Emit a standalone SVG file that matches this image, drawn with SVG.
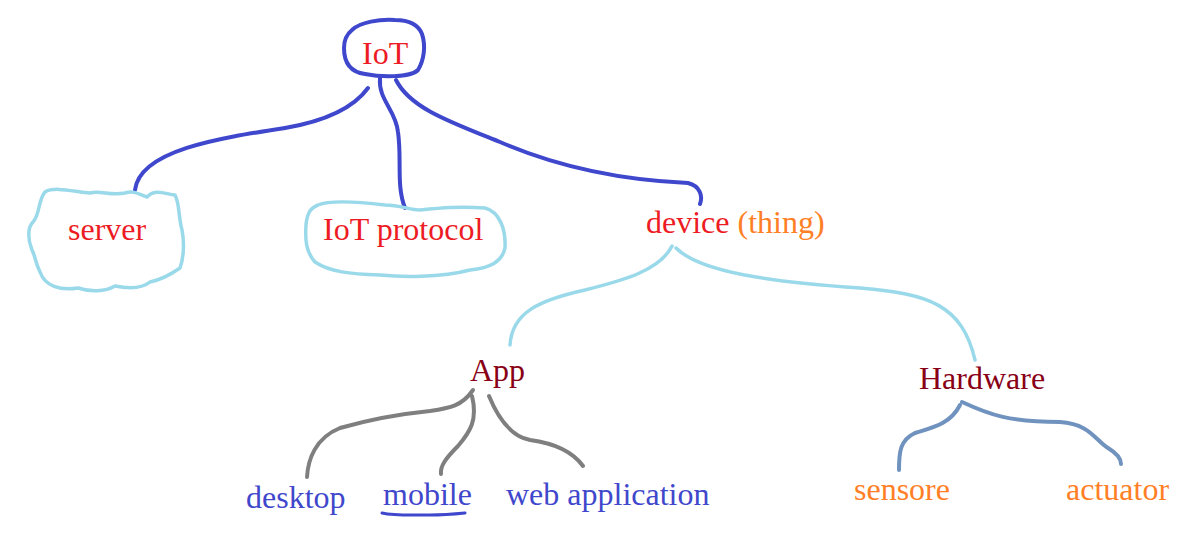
<svg xmlns="http://www.w3.org/2000/svg" width="1188" height="560" viewBox="0 0 1188 560">
<style>
text{font-family:"Liberation Serif","Times New Roman",serif;font-size:32px}
.red{fill:#ed1c24}.org{fill:#ff7f27}.dred{fill:#880015}.blu{fill:#3f48cc}
.s{fill:none;stroke-linecap:round;stroke-linejoin:round}
.dk{stroke:#3f48cc;stroke-width:4}
.lb{stroke:#99d9ea;stroke-width:3.5}
.gr{stroke:#7f7f7f;stroke-width:4}
.sb{stroke:#7092be;stroke-width:4}
</style>
<rect width="1188" height="560" fill="#fff"/>
<g id="connectors">
<path class="s dk" d="M368,88 C352,110 320,122 285,128 C220,138 140,150 135,190"/>
<path class="s dk" d="M380,78 C378,100 396,110 398,132 C402,160 396,185 405,208"/>
<path class="s dk" d="M396,80 C410,108 450,122 500,142 C560,168 620,180 688,183 C700,186 703,196 700,204"/>
<path class="s lb" d="M672,246 C660,270 625,280 585,290 C540,300 512,312 510,345"/>
<path class="s lb" d="M676,248 C700,272 770,282 860,288 C930,294 962,305 975,360"/>
<path class="s gr" d="M473,390 C462,406 450,408 430,411 C400,414 375,418 340,428 C315,438 308,460 307,477"/>
<path class="s gr" d="M472,396 C478,420 470,432 458,446 C446,458 440,466 441,474"/>
<path class="s gr" d="M489,396 C498,418 510,436 530,440 C560,444 575,455 583,466"/>
<path class="s sb" d="M960,405 C950,425 930,428 915,433 C900,440 899,452 899,470"/>
<path class="s sb" d="M962,402 C990,415 1010,422 1060,422 C1090,424 1095,440 1108,448 C1118,454 1121,460 1121,464"/>
</g>
<g id="iot">
<path class="s dk" d="M352,30 C360,22 380,19 395,20 C408,20 418,24 422,34 C426,46 424,60 418,70 C410,78 380,77 365,74 C350,72 344,62 344,48 C344,40 347,34 352,30 Z"/>
<text class="red" x="362" y="64">IoT</text>
</g>
<g id="server">
<path class="s lb" d="M45,192 C55,186 75,192 90,193 C100,190 110,196 125,193 C135,190 140,195 147,197 C155,188 165,194 175,195 C180,205 178,215 182,230 C185,245 183,260 180,268 C170,275 160,280 150,282 C140,290 125,288 115,286 C105,292 90,292 78,288 C60,291 45,286 40,272 C35,262 35,255 32,250 C28,240 27,228 33,222 C40,215 38,200 45,192 Z"/>
<text class="red" x="68" y="240">server</text>
</g>
<g id="iot-protocol">
<path class="s lb" d="M318,205 C330,200 360,202 385,205 C400,205 410,210 420,210 C440,208 460,206 485,208 C500,212 506,230 505,248 C502,262 490,268 470,270 C440,278 400,277 380,275 C350,274 330,272 315,262 C306,252 305,240 306,225 C307,214 310,208 318,205 Z"/>
<text class="red" x="323" y="240">IoT protocol</text>
</g>
<g id="device">
<text x="646" y="233"><tspan class="red">device</tspan><tspan class="org"> (thing)</tspan></text>
</g>
<g id="app">
<text class="dred" x="470" y="381">App</text>
</g>
<g id="hardware">
<text class="dred" x="919" y="389">Hardware</text>
</g>
<g id="desktop">
<text class="blu" x="246" y="508">desktop</text>
</g>
<g id="mobile">
<text class="blu" x="383" y="505">mobile</text>
<path class="s" stroke="#3f48cc" stroke-width="3" d="M382,513 C395,516 410,515 430,515 C445,515 455,514 465,513"/>
</g>
<g id="web-application">
<text class="blu" x="506" y="505">web application</text>
</g>
<g id="sensore">
<text class="org" x="854" y="500">sensore</text>
</g>
<g id="actuator">
<text class="org" x="1066" y="500">actuator</text>
</g>
</svg>
